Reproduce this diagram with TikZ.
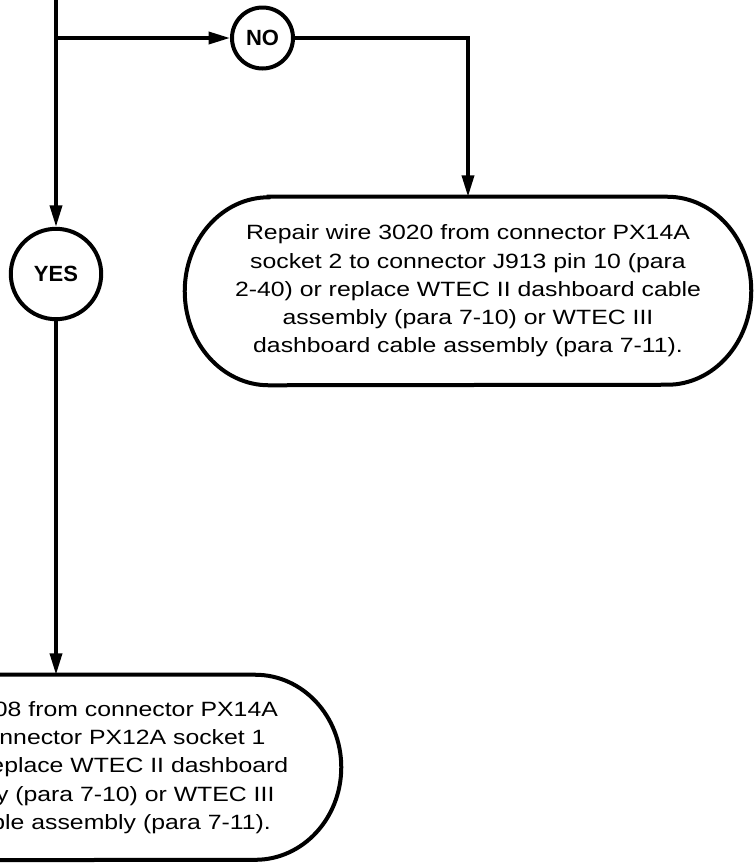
\documentclass[tikz,border=0pt]{standalone}
\usepackage{fontspec}
\setmainfont{Liberation Sans}
\newfontfamily\wideface{Liberation Sans}[FakeStretch=1.2]
\usetikzlibrary{arrows.meta}
\tikzset{
  flow/.style={line width=2.6pt,-{Triangle[length=16pt,width=9pt]}},
  answer/.style={circle,draw,line width=3pt,inner sep=0pt,font=\bfseries\fontsize{16.5pt}{18pt}\selectfont},
  action/.style={inner sep=0pt,align=center,font=\wideface\fontsize{15.5pt}{21.2pt}\selectfont},
  outline/.style={line width=3pt}
}
\newcommand\capsule[3]{\draw[outline] ([xshift=#2]#1.north west) -- ([xshift=-#2]#1.north east)
  arc[start angle=90,end angle=-90,x radius=#2,y radius=#3] -- ([xshift=#2]#1.south west)
  arc[start angle=270,end angle=90,x radius=#2,y radius=#3] -- cycle;}
\begin{document}
\begin{tikzpicture}[x=0.75pt,y=-0.75pt]
\useasboundingbox (0,0) rectangle (756,865);
\clip (0,0) rectangle (756,865);
\coordinate (top) at (56,-10); \coordinate (split) at (56,38); \coordinate (bend) at (468,38);
\node[answer,minimum size=67.8pt] (yes) at (56,274) {YES};
\node[answer,minimum size=45.75pt] (no) at (262.5,38) {NO};
\node[action,minimum width=424.5pt,minimum height=141pt] (repair1) at (468,291) {Repair wire 3020 from connector PX14A\\socket 2 to connector J913 pin 10 (para\\2-40) or replace WTEC II dashboard cable\\assembly (para 7-10) or WTEC III\\dashboard cable assembly (para 7-11).};
\node[action,minimum width=427.5pt,minimum height=138.75pt] (repair2) at (56,767.5) {Repair wire 3008 from connector PX14A\\socket 1 to connector PX12A socket 1\\(para 2-40) or replace WTEC II dashboard\\cable assembly (para 7-10) or WTEC III\\dashboard cable assembly (para 7-11).};
\capsule{repair1}{63pt}{70.5pt}
\capsule{repair2}{64.5pt}{69.4pt}
\draw[flow] (top) -- (yes);
\draw[flow] (split) -- (no);
\draw[flow] (no) -- (bend) -- (repair1);
\draw[flow] (yes) -- (repair2);
\end{tikzpicture}
\end{document}
